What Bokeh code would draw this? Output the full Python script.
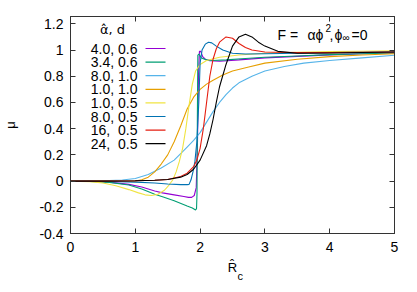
from bokeh.plotting import figure
from bokeh.models import Range1d, LinearAxis, FixedTicker, CustomJSTickFormatter, Label, BoxAnnotation
from bokeh.embed import file_html
from bokeh.resources import INLINE

FONT = "Liberation Sans"

# ---------------- data ----------------
series_labels = ["4.0, 0.6", "3.4, 0.6", "8.0, 1.0", "1.0, 1.0", "1.0, 0.5",
                 "8.0, 0.5", "16,\u00a0 0.5", "24,\u00a0 0.5"]
series_colors = ["#9400d3", "#009e73", "#56b4e9", "#e69f00", "#f0e442",
                 "#0072b2", "#e51e10", "#000000"]

x_purple = [0, 0.3, 0.6, 0.9, 1.1, 1.3, 1.42, 1.6, 1.75, 1.82, 1.87, 1.91, 1.94, 1.96,
            1.975, 1.99, 2.01, 2.04, 2.08, 2.15, 2.3, 2.6, 3.0, 3.5, 4.0, 4.5, 5.0]
y_purple = [0, -0.001, -0.008, -0.025, -0.045, -0.075, -0.09, -0.105, -0.118, -0.124, -0.124,
            -0.11, -0.05, 0.3, 0.8, 0.99, 0.99, 0.95, 0.93, 0.918, 0.915, 0.925, 0.94,
            0.952, 0.963, 0.972, 0.978]

x_green = [0, 0.3, 0.6, 0.9, 1.1, 1.3, 1.42, 1.6, 1.8, 1.88, 1.93, 1.945, 1.952, 1.958,
           1.965, 1.98, 2.02, 2.1, 2.2, 2.4, 2.7, 3.0, 3.5, 4.0, 4.5, 5.0]
y_green = [0, -0.002, -0.01, -0.03, -0.06, -0.1, -0.12, -0.15, -0.19, -0.205, -0.22, -0.21,
           -0.1, 0.5, 0.96, 0.97, 0.94, 0.925, 0.92, 0.925, 0.935, 0.945, 0.955, 0.965,
           0.972, 0.978]

x_lblue = [0, 0.4, 0.8, 1.0, 1.2, 1.4, 1.6, 1.8, 1.9, 2.0, 2.1, 2.2, 2.3, 2.4, 2.5, 2.6,
           2.8, 3.0, 3.3, 3.6, 4.0, 4.5, 5.0]
y_lblue = [0, 0.001, 0.008, 0.02, 0.05, 0.1, 0.16, 0.26, 0.31, 0.37, 0.45, 0.53, 0.6, 0.66,
           0.71, 0.75, 0.8, 0.84, 0.875, 0.9, 0.92, 0.94, 0.96]

x_orange = [0, 0.4, 0.8, 1.0, 1.1, 1.2, 1.3, 1.4, 1.5, 1.6, 1.7, 1.8, 1.9, 2.0, 2.1, 2.2,
            2.35, 2.5, 2.75, 3.0, 3.5, 4.0, 4.5, 5.0]
y_orange = [0, 0, -0.002, 0.0, 0.01, 0.03, 0.07, 0.13, 0.2, 0.3, 0.42, 0.55, 0.64, 0.7,
            0.74, 0.77, 0.81, 0.84, 0.87, 0.9, 0.93, 0.95, 0.962, 0.972]

x_yellow = [0, 0.3, 0.5, 0.7, 0.9, 1.05, 1.15, 1.25, 1.35, 1.45, 1.52, 1.58, 1.63, 1.68,
            1.73, 1.78, 1.83, 1.88, 1.93, 2.0, 2.1, 2.3, 2.6, 3.0, 3.5, 4.0, 4.5, 5.0]
y_yellow = [0, -0.004, -0.015, -0.035, -0.065, -0.09, -0.105, -0.11, -0.1, -0.07, -0.03,
            0.01, 0.07, 0.15, 0.25, 0.4, 0.58, 0.74, 0.84, 0.89, 0.92, 0.945, 0.962, 0.975,
            0.983, 0.988, 0.991, 0.995]

x_blue = [0, 0.5, 1.0, 1.3, 1.5, 1.7, 1.8, 1.83, 1.86, 1.89, 1.92, 1.95, 1.98, 2.0, 2.03,
          2.08, 2.13, 2.18, 2.25, 2.35, 2.5, 2.7, 3.0, 3.5, 4.0, 5.0]
y_blue = [0, -0.001, -0.008, -0.015, -0.022, -0.027, -0.027, -0.025, 0.01, 0.07, 0.15, 0.3,
          0.6, 0.9, 1.0, 1.045, 1.06, 1.055, 1.03, 1.0, 0.975, 0.97, 0.972, 0.975, 0.98, 0.985]

x_red = [0, 0.5, 1.0, 1.3, 1.5, 1.7, 1.8, 1.9, 1.95, 2.0, 2.05, 2.1, 2.15, 2.2, 2.25, 2.3,
         2.4, 2.5, 2.6, 2.7, 2.8, 3.0, 3.5, 4.0, 5.0]
y_red = [0, 0.0, 0.002, 0.006, 0.012, 0.035, 0.06, 0.11, 0.16, 0.25, 0.4, 0.6, 0.8, 0.93,
         1.01, 1.06, 1.1, 1.09, 1.05, 1.02, 1.0, 0.985, 0.98, 0.98, 0.985]

x_black = [0, 0.5, 1.0, 1.3, 1.5, 1.7, 1.8, 1.9, 2.0, 2.1, 2.15, 2.2, 2.25, 2.3, 2.4, 2.5,
           2.6, 2.7, 2.8, 2.9, 3.0, 3.2, 3.5, 4.0, 5.0]
y_black = [0, 0.0, 0.002, 0.006, 0.012, 0.03, 0.05, 0.09, 0.16, 0.27, 0.36, 0.47, 0.6, 0.72,
           0.89, 1.03, 1.1, 1.12, 1.1, 1.06, 1.03, 0.99, 0.975, 0.978, 0.985]

series_x = [x_purple, x_green, x_lblue, x_orange, x_yellow, x_blue, x_red, x_black]
series_y = [y_purple, y_green, y_lblue, y_orange, y_yellow, y_blue, y_red, y_black]

x_ticks = [0, 1, 2, 3, 4, 5]
y_ticks = [-0.4, -0.2, 0, 0.2, 0.4, 0.6, 0.8, 1.0, 1.2]

# ---------------- layout ----------------
X0, X1 = 0.0, 5.0
Y0, Y1 = -0.4, 1.256
FRAME_L, FRAME_T, FRAME_W, FRAME_H = 68, 16, 324, 217  # page pixels (reference)
FRAME_B = FRAME_T + FRAME_H

p = figure(frame_width=FRAME_W, frame_height=FRAME_H,
           x_range=Range1d(X0, X1), y_range=Range1d(Y0, Y1),
           output_backend="svg", toolbar_location=None,
           min_border_left=FRAME_L, min_border_top=FRAME_T,
           min_border_right=417 - FRAME_L - FRAME_W, min_border_bottom=292 - FRAME_B,
           background_fill_color="white", border_fill_color="white")
p.grid.visible = False
p.outline_line_color = "#333333"
p.outline_line_width = 1

fmt = CustomJSTickFormatter(code="return String(Number(tick.toFixed(1)));")

for ax in (p.xaxis[0], p.yaxis[0]):
    ax.major_tick_in = 5
    ax.major_tick_out = 0
    ax.minor_tick_line_color = None
    ax.axis_line_color = "#333333"
    ax.major_tick_line_color = "#333333"
    ax.major_label_text_font = FONT
    ax.major_label_text_font_size = "14px"
    ax.major_label_text_color = "black"
    ax.formatter = fmt
    ax.axis_label_text_font = FONT
    ax.axis_label_text_font_size = "13px"
    ax.axis_label_text_font_style = "normal"
    ax.axis_label_text_color = "black"
p.xaxis[0].ticker = FixedTicker(ticks=x_ticks)
p.yaxis[0].ticker = FixedTicker(ticks=y_ticks)
p.xaxis[0].major_label_standoff = 8
p.yaxis[0].major_label_standoff = 7
p.yaxis[0].axis_label = "μ"
p.yaxis[0].axis_label_standoff = 18
p.xaxis[0].axis_label = "R̂"
p.xaxis[0].axis_label_standoff = 5

for loc, ticks in (("above", x_ticks), ("right", y_ticks)):
    ax = LinearAxis(ticker=FixedTicker(ticks=ticks))
    ax.major_tick_in = 5
    ax.major_tick_out = 0
    ax.minor_tick_line_color = None
    ax.axis_line_color = "#333333"
    ax.major_tick_line_color = "#333333"
    ax.major_label_text_font_size = "0px"
    ax.major_label_standoff = 0
    p.add_layout(ax, loc)

# subscript of the x-axis title, in the panel under the x axis
p.add_layout(Label(x=167, y=14, x_units="screen", y_units="screen", text="c",
                   text_align="left", text_baseline="alphabetic",
                   text_font=FONT, text_font_size="11px", text_color="black"), "below")

# curves
for xs, ys, c in zip(series_x, series_y, series_colors):
    p.line(xs, ys, line_color=c, line_width=1.1)


# text helpers: positions given in reference page pixels, converted to frame-relative screen units
def lab(px, py, t, size="14px", align="left", baseline="alphabetic", font=FONT):
    p.add_layout(Label(x=px - FRAME_L, y=FRAME_B - py, x_units="screen", y_units="screen",
                       text=t, text_align=align, text_baseline=baseline,
                       text_font=font, text_font_size=size, text_color="black"))


def box(px0, px1, py, c):
    p.add_layout(BoxAnnotation(left=px0 - FRAME_L, right=px1 - FRAME_L,
                               top=FRAME_B - py + 0.6, bottom=FRAME_B - py - 0.6,
                               left_units="screen", right_units="screen",
                               top_units="screen", bottom_units="screen",
                               fill_color=c, fill_alpha=1.0, line_alpha=0))


# legend (label, then line sample on the right)
lab(110, 29, "α̂, d", align="center", baseline="middle", font="DejaVu Sans", size="13px")
for i, (name, c) in enumerate(zip(series_labels, series_colors)):
    yc = 48 + i * 13.6
    lab(135, yc, name, align="right", baseline="middle")
    box(143, 163, yc, c)

# formula in the top-right corner
lab(275, 34, "F =")
lab(305, 34, "αϕ")
lab(323, 27, "2", "10px")
lab(327, 34, ",")
lab(332, 34, "ϕ")
lab(340, 37, "∞", "10px")
lab(349, 34, "=0")

with open("out.html", "w") as f:
    f.write(file_html(p, INLINE))
